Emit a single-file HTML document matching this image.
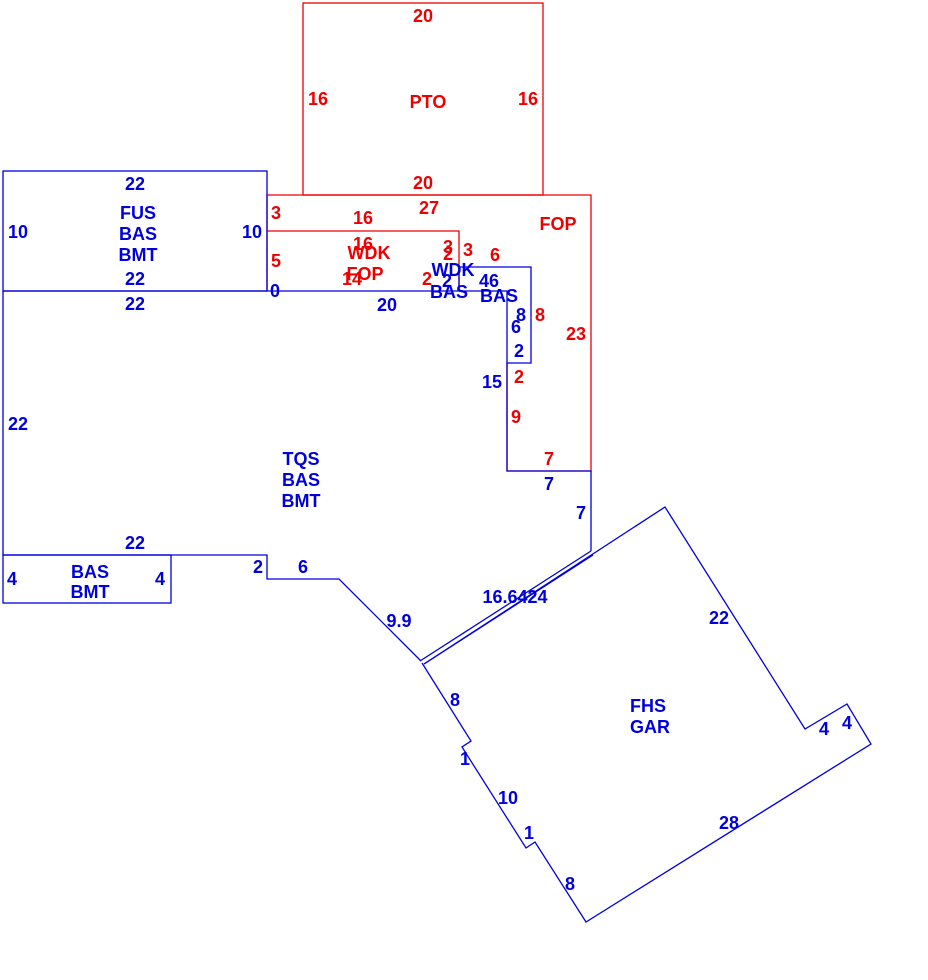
<!DOCTYPE html>
<html><head><meta charset="utf-8"><style>
html,body{margin:0;padding:0;background:#fff;width:928px;height:980px;overflow:hidden}
text{font-family:"Liberation Sans",sans-serif;font-weight:bold;font-size:18px;text-anchor:middle}
.b{fill:#0000dd}.r{fill:#ee0000}
</style></head><body>
<svg width="928" height="980" viewBox="0 0 928 980" xmlns="http://www.w3.org/2000/svg">
<g fill="none" stroke="#ee0000" stroke-width="1.3">
<rect x="303" y="3" width="240" height="192"/>
<polyline points="267,291 267,195 591,195 591,471 507,471 507,363"/>
<polyline points="267,231 459,231 459,291"/>
</g>
<g fill="none" stroke="#0000dd" stroke-width="1.3">
<rect x="3" y="171" width="264" height="120"/>
<rect x="3" y="555" width="168" height="48"/>
<polyline points="3,291 3,555 267,555 267,579 339,579 421,661"/>
<polyline points="3,291 459,291"/>
<polyline points="459,291 459,267 531,267 531,363 507,363 507,291 459,291"/>
<polyline points="507,363 507,471 591,471 591,551"/>
<line x1="420" y1="661" x2="591" y2="551"/>
<line x1="424" y1="664" x2="593" y2="555"/>
<polyline points="424,664 665,507 805,729 847,704 871,744 586,922 535,842 526,848 462,747 471,741 422,663"/>
</g>
<g class="r">
<text x="423" y="22">20</text><text x="318" y="105">16</text><text x="528" y="105">16</text>
<text x="428" y="108">PTO</text><text x="423" y="189">20</text><text x="429" y="214">27</text>
<text x="558" y="230">FOP</text><text x="276" y="219">3</text><text x="363" y="224">16</text>
<text x="363" y="250">16</text><text x="369" y="259">WDK</text><text x="365" y="280">FOP</text>
<text x="352" y="285">14</text><text x="276" y="267">5</text><text x="448" y="253">3</text>
<text x="448" y="260">2</text><text x="468" y="256">3</text><text x="495" y="261">6</text>
<text x="427" y="285">2</text><text x="540" y="321">8</text><text x="576" y="340">23</text>
<text x="519" y="383">2</text><text x="516" y="423">9</text><text x="549" y="465">7</text>
</g>
<g class="b">
<text x="135" y="190">22</text><text x="138" y="219">FUS</text><text x="138" y="240">BAS</text>
<text x="138" y="261">BMT</text><text x="135" y="285">22</text><text x="135" y="310">22</text>
<text x="18" y="238">10</text><text x="252" y="238">10</text><text x="275" y="297">0</text>
<text x="387" y="311">20</text><text x="453" y="276">WDK</text><text x="449" y="298">BAS</text>
<text x="447" y="287">2</text><text x="489" y="287">46</text><text x="499" y="302">BAS</text>
<text x="521" y="321">8</text><text x="516" y="333">6</text><text x="519" y="357">2</text>
<text x="492" y="388">15</text><text x="18" y="430">22</text>
<text x="301" y="465">TQS</text><text x="301" y="486">BAS</text><text x="301" y="507">BMT</text>
<text x="549" y="490">7</text><text x="581" y="519">7</text><text x="135" y="549">22</text>
<text x="12" y="585">4</text><text x="160" y="585">4</text>
<text x="90" y="578">BAS</text><text x="90" y="598">BMT</text>
<text x="258" y="573">2</text><text x="303" y="573">6</text><text x="399" y="627">9.9</text>
<text x="515" y="603">16.6424</text><text x="719" y="624">22</text>
<text x="648" y="712">FHS</text><text x="650" y="733">GAR</text>
<text x="455" y="706">8</text><text x="465" y="765">1</text><text x="508" y="804">10</text>
<text x="529" y="839">1</text><text x="570" y="890">8</text><text x="729" y="829">28</text>
<text x="824" y="735">4</text><text x="847" y="729">4</text>
</g>
</svg>
</body></html>
